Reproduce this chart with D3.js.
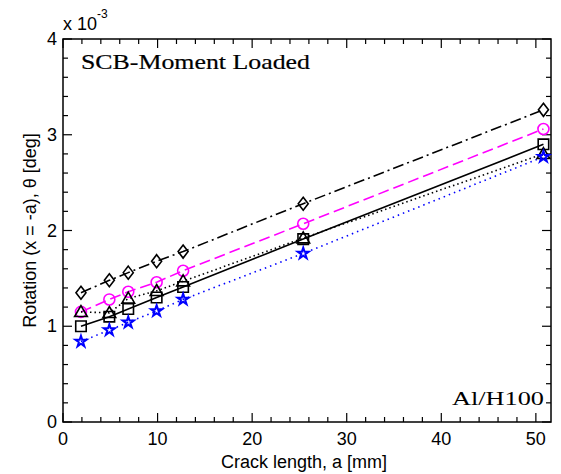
<!DOCTYPE html>
<html>
<head>
<meta charset="utf-8">
<script src="https://cdn.jsdelivr.net/npm/d3@7"></script>
<style>
  html, body { margin: 0; padding: 0; background: #fff; }
  svg { display: block; }
</style>
</head>
<body>
<svg id="chart" width="561" height="474"></svg>
<script>
// Crack lengths (mm) where the rotation was evaluated
const crackLength = [1.9, 4.9, 6.9, 9.9, 12.7, 25.4, 50.8];

// Rotation values, in units of 1e-3 deg
const seriesDiamond = [1.35, 1.48, 1.56, 1.68, 1.78, 2.28, 3.26];
const seriesCircle  = [1.15, 1.28, 1.36, 1.46, 1.58, 2.07, 3.06];
const seriesSquare  = [1.00, 1.10, 1.18, 1.30, 1.41, 1.91, 2.90];
const seriesTriangle= [1.15, 1.14, 1.29, 1.37, 1.47, 1.92, 2.80];
const seriesStar    = [0.84, 0.96, 1.04, 1.16, 1.28, 1.76, 2.77];

const xTicks = [0, 10, 20, 30, 40, 50];
const yTicks = [0, 1, 2, 3, 4];

const series = [
  { values: seriesDiamond,  color: "#000",    dash: "11,4,2,4", marker: "diamond" },
  { values: seriesCircle,   color: "#ff00ff", dash: "11,5",     marker: "circle" },
  { values: seriesTriangle, color: "#000",    dash: "1.5,3",    marker: "triangle" },
  { values: seriesSquare,   color: "#000",    dash: null,       marker: "square" },
  { values: seriesStar,     color: "#0000ff", dash: "1.5,4",    marker: "star" }
];

const svg = d3.select("#chart");
const m = { left: 63, right: 10, top: 39, bottom: 52 };
const W = 561, H = 474;
const x = d3.scaleLinear().domain([0, 51.6]).range([m.left, W - m.right]);
const y = d3.scaleLinear().domain([0, 4]).range([H - m.bottom, m.top]);

const sansFont = "Arial, 'Liberation Sans', Helvetica, sans-serif";
const serifFont = "'Liberation Serif', 'DejaVu Serif', serif";

// Plot box
svg.append("rect")
  .attr("x", x(0)).attr("y", y(4))
  .attr("width", x(51.6) - x(0)).attr("height", y(0) - y(4))
  .attr("fill", "none").attr("stroke", "#000").attr("stroke-width", 1.5);

// Inward ticks on all four sides (major + minor)
const xMinor = d3.range(0, 51.6, 2).filter(v => v % 10 !== 0);
const yMinor = d3.range(0, 4.001, 0.2).filter(v => Math.abs(v - Math.round(v)) > 1e-6);
const tickG = svg.append("g").attr("stroke", "#000").attr("stroke-width", 1.2);
function xTick(v, len) {
  tickG.append("line").attr("x1", x(v)).attr("x2", x(v)).attr("y1", y(0)).attr("y2", y(0) - len);
  tickG.append("line").attr("x1", x(v)).attr("x2", x(v)).attr("y1", y(4)).attr("y2", y(4) + len);
}
function yTick(v, len) {
  tickG.append("line").attr("y1", y(v)).attr("y2", y(v)).attr("x1", x(0)).attr("x2", x(0) + len);
  tickG.append("line").attr("y1", y(v)).attr("y2", y(v)).attr("x1", x(51.6)).attr("x2", x(51.6) - len);
}
xTicks.forEach(v => xTick(v, 9));
xMinor.forEach(v => xTick(v, 5));
yTicks.forEach(v => yTick(v, 9));
yMinor.forEach(v => yTick(v, 5));

// Tick labels
svg.append("g").selectAll("text").data(xTicks).join("text")
  .attr("x", d => x(d)).attr("y", y(0) + 23)
  .attr("text-anchor", "middle")
  .attr("font-family", sansFont).attr("font-size", 18)
  .text(d => d);
svg.append("g").selectAll("text").data(yTicks).join("text")
  .attr("x", x(0) - 6).attr("y", d => y(d) + 6)
  .attr("text-anchor", "end")
  .attr("font-family", sansFont).attr("font-size", 18)
  .text(d => d);

// Exponent label
const expo = svg.append("text").attr("x", x(0)).attr("y", 30)
  .attr("font-family", sansFont).attr("font-size", 18);
expo.append("tspan").text("x 10");
expo.append("tspan").attr("dy", -12).attr("font-size", 12).text("-3");

// Axis titles
svg.append("text")
  .attr("x", (x(0) + x(51.6)) / 2 - 3).attr("y", 468)
  .attr("text-anchor", "middle")
  .attr("font-family", sansFont).attr("font-size", 18)
  .text("Crack length, a [mm]");
svg.append("text")
  .attr("transform", `translate(36,${(y(0) + y(4)) / 2}) rotate(-90)`)
  .attr("text-anchor", "middle")
  .attr("font-family", sansFont).attr("font-size", 18)
  .text("Rotation (x = -a), θ [deg]");

// Annotations
svg.append("text").attr("x", 81).attr("y", 69)
  .attr("font-family", serifFont).attr("font-size", 21)
  .attr("stroke", "#000").attr("stroke-width", 0.2)
  .attr("textLength", 229).attr("lengthAdjust", "spacingAndGlyphs")
  .text("SCB-Moment Loaded");
svg.append("text").attr("x", 452).attr("y", 405)
  .attr("font-family", serifFont).attr("font-size", 19)
  .attr("textLength", 92).attr("lengthAdjust", "spacingAndGlyphs")
  .text("Al/H100");

// Lines
const line = d3.line().x((d, i) => x(crackLength[i])).y(d => y(d));
svg.append("g").selectAll("path").data(series).join("path")
  .attr("d", s => line(s.values))
  .attr("fill", "none")
  .attr("stroke", s => s.color)
  .attr("stroke-width", 1.6)
  .attr("stroke-dasharray", s => s.dash);

// Markers
const symbolType = {
  circle: d3.symbolCircle,
  square: d3.symbolSquare,
  triangle: d3.symbolTriangle,
  star: d3.symbolStar
};
const symbolSize = { circle: 95, square: 110, triangle: 70, star: 38 };
series.forEach(s => {
  const g = svg.append("g");
  s.values.forEach((v, i) => {
    const cx = x(crackLength[i]), cy = y(v);
    if (s.marker === "diamond") {
      g.append("path")
        .attr("d", `M${cx},${cy - 6.5}L${cx + 5},${cy}L${cx},${cy + 6.5}L${cx - 5},${cy}Z`)
        .attr("fill", "none").attr("stroke", s.color).attr("stroke-width", 1.6);
    } else {
      g.append("path")
        .attr("d", d3.symbol().type(symbolType[s.marker]).size(symbolSize[s.marker])())
        .attr("transform", `translate(${cx},${cy + (s.marker === "triangle" ? 1 : 0)})`)
        .attr("fill", "none").attr("stroke", s.color)
        .attr("stroke-width", s.marker === "star" ? 2 : 1.6);
    }
  });
});
</script>
</body>
</html>
